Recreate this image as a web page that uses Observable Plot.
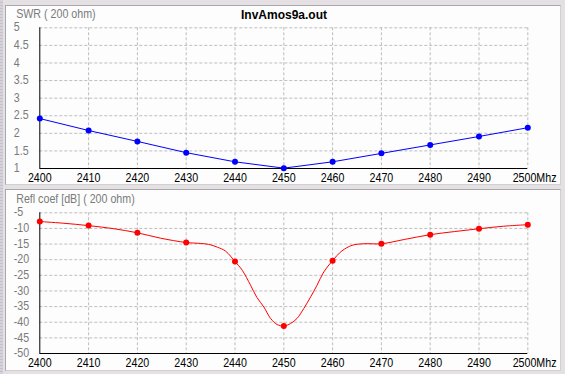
<!DOCTYPE html>
<html>
<head>
<meta charset="utf-8">
<script src="https://cdn.jsdelivr.net/npm/d3@7"></script>
<script src="https://cdn.jsdelivr.net/npm/@observablehq/plot@0.6"></script>
<style>
  html, body { margin: 0; padding: 0; }
  body { width: 565px; height: 374px; background: #e4e0e4; position: relative; overflow: hidden; }
  #strip { position: absolute; left: 0; top: 0; width: 3px; height: 374px;
    background: repeating-linear-gradient(#d6d2da 0 2px, #c4c0cc 2px 3px); }
  .panel { position: absolute; left: 5px; width: 554px; border: 1px solid #a8a8a8; border-right-color: #d0d0d0; border-bottom-color: #d0d0d0; background: #fcfdfc; }
  .panel svg { display: block; }
</style>
</head>
<body>
<div id="strip"></div>
<div class="panel" id="p1" style="top:5px;height:178px"></div>
<div class="panel" id="p2" style="top:189px;height:180px"></div>
<script>
// ---- data ----
const title = "InvAmos9a.out";
const swrLabel = "SWR ( 200 ohm)";
const dbLabel = "Refl coef [dB] ( 200 ohm)";
const unitLabel = "Mhz";
const freqs = [2400, 2410, 2420, 2430, 2440, 2450, 2460, 2470, 2480, 2490, 2500];
const swr = [2.42, 2.08, 1.77, 1.45, 1.19, 1.01, 1.19, 1.43, 1.67, 1.91, 2.16];
const reflDb = [-7.8, -9.1, -11.4, -14.5, -20.6, -41.2, -20.3, -14.9, -12.0, -10.1, -8.8];
// fine-resolution reflection curve
const curveFreq = [2400, 2404.6, 2410, 2415.2, 2420, 2424.7, 2430, 2432.9, 2434.6, 2436.4, 2438.1, 2440,
  2441.5, 2443.2, 2444.5, 2445.9, 2447.3, 2448.6, 2450, 2451.4, 2452.7, 2454.1, 2455.5, 2456.8, 2458.2,
  2460, 2461.9, 2464, 2466.4, 2470, 2474.8, 2480, 2485, 2490, 2495, 2500];
const curveDb = [-7.8, -8.3, -9.1, -10.1, -11.4, -13.1, -14.5, -14.8, -15.1, -16.0, -17.3, -20.6,
  -23.4, -28.2, -32.1, -35.1, -38.8, -40.7, -41.2, -40.4, -38.8, -35.6, -31.9, -28.2, -23.9,
  -20.3, -17.2, -15.4, -14.9, -14.9, -13.5, -12.0, -11.0, -10.1, -9.3, -8.8];
const swrTicks = [1, 1.5, 2, 2.5, 3, 3.5, 4, 4.5, 5];
const dbTicks = [-50, -45, -40, -35, -30, -25, -20, -15, -10, -5];

const swrRows = freqs.map((f, i) => ({f, v: swr[i]}));
const dbRows = freqs.map((f, i) => ({f, v: reflDb[i]}));
const curveRows = curveFreq.map((f, i) => ({f, v: curveDb[i]}));

const FONT = "'Liberation Sans', Arial, sans-serif";
const GRID = {stroke: "#bdbdbd", strokeOpacity: 1, strokeDasharray: "3,2"};
const lastFreq = freqs[freqs.length - 1];

function panel({h, mTop, mBottom, yDomain, yTicks, lineRows, dotRows, color, curve, label, labelDy, showTitle}) {
  const marks = [
    Plot.gridX(freqs.slice(1), GRID),
    Plot.gridY(yTicks.slice(1), GRID),
    Plot.ruleX([freqs[0]], {stroke: "black"}),
    Plot.ruleY([yDomain[0]], {stroke: "black"}),
    Plot.line(lineRows, {x: "f", y: "v", stroke: color, strokeWidth: 1, curve}),
    Plot.dot(dotRows, {x: "f", y: "v", r: 3, fill: color, stroke: null}),
    Plot.text(yTicks, {y: d => d, text: d => String(d), frameAnchor: "left", textAnchor: "start", lineAnchor: "middle", dx: -26, dy: -0.5, fill: "#7a7a7a", fontSize: 13}),
    Plot.text(freqs.slice(0, -1), {x: d => d, text: d => String(d), frameAnchor: "bottom", lineAnchor: "middle", dy: 9.5, fill: "black", fontSize: 13}),
    Plot.text([lastFreq], {x: d => d, text: d => `${d}${unitLabel}`, frameAnchor: "bottom", textAnchor: "end", lineAnchor: "middle", dx: 28.7, dy: 9.5, fill: "black", fontSize: 13}),
    Plot.text([label], {text: d => d, frameAnchor: "top-left", textAnchor: "start", lineAnchor: "middle", dx: -23.6, dy: labelDy, fill: "#7a7a7a", fontSize: 13})
  ];
  if (showTitle) marks.push(Plot.text([title], {text: d => d, frameAnchor: "top", lineAnchor: "middle", dx: 0.2, dy: -13, fill: "black", fontSize: 12, fontWeight: "bold"}));
  return Plot.plot({
    width: 554, height: h,
    marginLeft: 33.3, marginRight: 32.7, marginTop: mTop, marginBottom: mBottom,
    x: {domain: [2400, 2500], axis: null},
    y: {domain: yDomain, axis: null},
    style: {fontFamily: FONT, fontSize: "13px", background: "transparent", overflow: "visible"},
    marks
  });
}

// narrow the regular-weight texts, like the condensed system font of the original
function condense(svg, k) {
  svg.querySelectorAll("text").forEach(t => {
    const g = t.closest("g");
    if (g && g.getAttribute("font-weight") === "bold") return;
    const L = t.getComputedTextLength();
    t.setAttribute("textLength", (L * k).toFixed(2));
    t.setAttribute("lengthAdjust", "spacingAndGlyphs");
  });
}

const s1 = panel({
  h: 178, mTop: 21.3, mBottom: 16, yDomain: [1, 5], yTicks: swrTicks,
  lineRows: swrRows, dotRows: swrRows, color: "#0000ff", curve: "linear",
  label: swrLabel, labelDy: -13.5, showTitle: true
});
document.getElementById("p1").append(s1);
const s2 = panel({
  h: 180, mTop: 22.3, mBottom: 17, yDomain: [-50, -5], yTicks: dbTicks,
  lineRows: curveRows, dotRows: dbRows, color: "#ff0000", curve: "catmull-rom",
  label: dbLabel, labelDy: -14.3, showTitle: false
});
document.getElementById("p2").append(s2);
condense(s1, 0.82);
condense(s2, 0.82);
</script>
</body>
</html>
